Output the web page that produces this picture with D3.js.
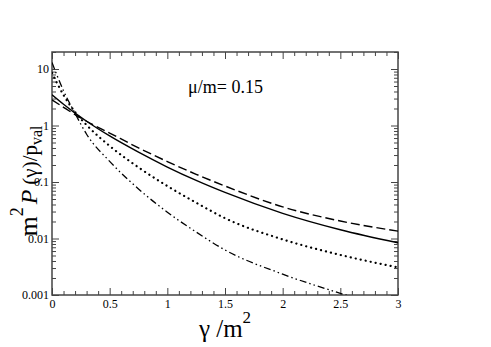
<!DOCTYPE html>
<html>
<head>
<meta charset="utf-8">
<script src="https://cdn.jsdelivr.net/npm/d3@7"></script>
<style>
  body { margin: 0; background: #fff; }
</style>
</head>
<body>
<div id="chart"></div>
<script>
// gamma/m^2 sample points
const gammas = [0, 0.1, 0.2, 0.3, 0.5, 0.75, 1, 1.25, 1.5, 2, 2.5, 3];
const solidVals  = [3.5, 2.38, 1.66, 1.19, 0.653, 0.337, 0.184, 0.1066, 0.0653, 0.0279, 0.0143, 0.0084];
const dashedVals = [2.85, 2.1, 1.56, 1.19, 0.736, 0.402, 0.230, 0.137, 0.085, 0.0363, 0.0204, 0.0135];
const dottedVals = [8.5, 3.46, 1.73, 1.02, 0.435, 0.1816, 0.0849, 0.0431, 0.0229, 0.00964, 0.00512, 0.00308];
const ddotVals   = [13, 4.11, 1.64, 0.70, 0.232, 0.0754, 0.0292, 0.0130, 0.00627, 0.00234, 0.00107, 0.00052];
const xTicks = [0, 0.5, 1, 1.5, 2, 2.5, 3];
const yTicks = [0.001, 0.01, 0.1, 1, 10];
const muLabel = "\u03bc/m= 0.15";

const W = 491, H = 347;
const serif = "Liberation Serif";
const margin = {top: 52, right: 93, bottom: 52, left: 52},
    width = W - margin.left - margin.right,
    height = H - margin.top - margin.bottom;

const svg = d3.select("#chart").append("svg")
    .attr("width", W).attr("height", H)
    .style("font-family", serif)
    .append("g")
    .attr("transform", `translate(${margin.left},${margin.top})`);

const x = d3.scaleLinear().domain([0, 3]).range([0, width]);
const y = d3.scaleLog().domain([0.001, 20]).range([height, 0]);

const axisColor = "#444";
const minorX = d3.range(0, 3.0001, 0.1).filter(v => Math.abs(v * 2 - Math.round(v * 2)) > 1e-6);
const minorY = [];
[0.001, 0.01, 0.1, 1, 10].forEach(d => { for (let k = 2; k <= 9; k++) if (d * k <= 20) minorY.push(d * k); });

function styleAxis(g) {
    g.attr("font-family", null);
    g.select(".domain").remove();
    g.selectAll("line").attr("stroke", axisColor).attr("stroke-width", 1);
    g.selectAll("text").attr("fill", "#000")
        .style("font-family", serif).attr("font-size", 12);
}

// bottom
svg.append("g").attr("transform", `translate(0,${height})`)
    .call(d3.axisBottom(x).tickValues(xTicks).tickSize(-7).tickPadding(4).tickFormat(d3.format("")))
    .call(styleAxis);
svg.append("g").attr("transform", `translate(0,${height})`)
    .call(d3.axisBottom(x).tickValues(minorX).tickSize(-4).tickFormat(""))
    .call(styleAxis);
// top
svg.append("g")
    .call(d3.axisTop(x).tickValues(xTicks).tickSize(-7).tickFormat(""))
    .call(styleAxis);
svg.append("g")
    .call(d3.axisTop(x).tickValues(minorX).tickSize(-4).tickFormat(""))
    .call(styleAxis);
// left
svg.append("g")
    .call(d3.axisLeft(y).tickValues(yTicks).tickSize(-7).tickPadding(3).tickFormat(d => String(d)))
    .call(styleAxis);
svg.append("g")
    .call(d3.axisLeft(y).tickValues(minorY).tickSize(-4).tickFormat(""))
    .call(styleAxis);
// right
svg.append("g").attr("transform", `translate(${width},0)`)
    .call(d3.axisRight(y).tickValues(yTicks).tickSize(-7).tickFormat(""))
    .call(styleAxis);
svg.append("g").attr("transform", `translate(${width},0)`)
    .call(d3.axisRight(y).tickValues(minorY).tickSize(-4).tickFormat(""))
    .call(styleAxis);

// frame
svg.append("rect").attr("width", width).attr("height", height)
    .attr("fill", "none").attr("stroke", axisColor).attr("stroke-width", 1.5);

svg.append("clipPath").attr("id", "clip")
    .append("rect").attr("width", width).attr("height", height);

const series = [
    {vals: solidVals, dash: null, w: 1.4, cap: "butt"},
    {vals: dashedVals, dash: "9,4", w: 1.4, cap: "butt"},
    {vals: dottedVals, dash: "0.1,5", w: 2.2, cap: "round"},
    {vals: ddotVals, dash: "7,3,1.5,3,1.5,3", w: 1.3, cap: "butt"}
];

const line = d3.line()
    .x(d => x(d[0]))
    .y(d => y(d[1]))
    .curve(d3.curveMonotoneX);

series.forEach(s => {
    svg.append("path")
        .datum(gammas.map((g, i) => [g, s.vals[i]]))
        .attr("clip-path", "url(#clip)")
        .attr("fill", "none")
        .attr("stroke", "#000")
        .attr("stroke-width", s.w)
        .attr("stroke-linecap", s.cap)
        .attr("stroke-dasharray", s.dash)
        .attr("d", line);
});

// annotation
svg.append("text")
    .attr("x", x(1.18)).attr("y", 41)
    .attr("font-size", 18)
    .text(muLabel);

// x label
const xl = svg.append("text")
    .attr("x", x(1.5)).attr("y", height + 42)
    .attr("text-anchor", "middle")
    .attr("font-size", 25);
xl.append("tspan").text("\u03b3 /m");
xl.append("tspan").attr("dy", -14).attr("font-size", 17).text("2");

// y label
const yl = svg.append("text")
    .attr("transform", `translate(-15,129) rotate(-90)`)
    .attr("text-anchor", "middle")
    .attr("font-size", 26);
yl.append("tspan").text("m");
yl.append("tspan").attr("dy", -14).attr("font-size", 18).text("2");
yl.append("tspan").attr("dy", 14).attr("dx", 3).attr("font-style", "italic").attr("font-size", 24).text("P");
yl.append("tspan").attr("dx", 5).attr("font-size", 21).text("(\u03b3)/p");
yl.append("tspan").attr("dy", 5).attr("font-size", 16).text("val");
</script>
</body>
</html>
